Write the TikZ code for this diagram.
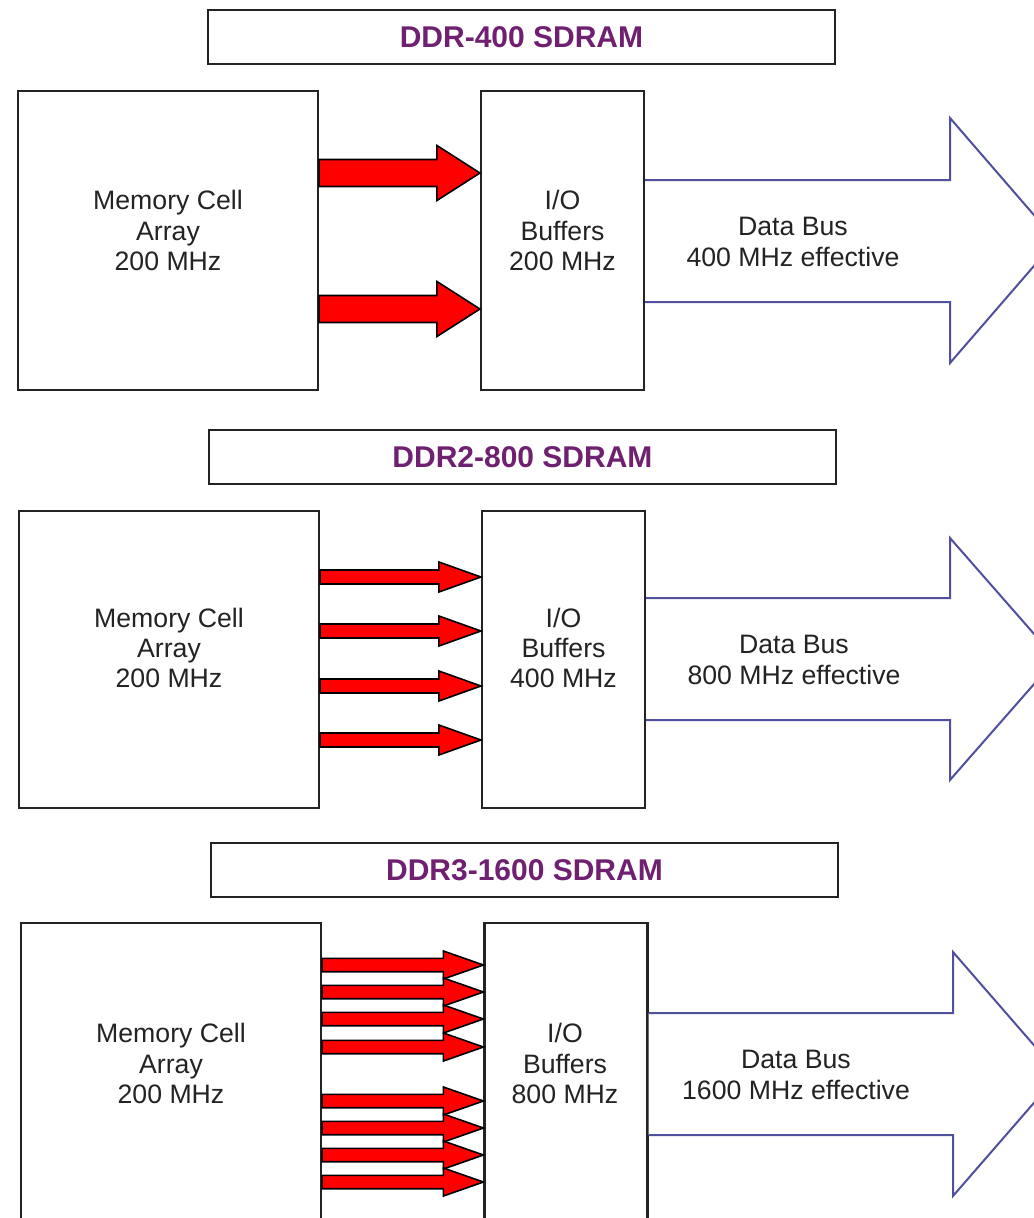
\documentclass[tikz,border=0pt]{standalone}
\usepackage{fontspec}
\setmainfont{Liberation Sans}
\usetikzlibrary{calc}
\definecolor{ttlcol}{RGB}{112,32,112}
\definecolor{buscol}{RGB}{80,80,158}
\definecolor{boxcol}{RGB}{35,35,35}
\tikzset{
  box/.style={draw=boxcol, line width=1.6pt, fill=white, inner sep=0pt},
  ttlbox/.style={box, minimum width=627*0.75pt, minimum height=54*0.75pt,
    font=\fontsize{22.5}{24}\selectfont\bfseries, text=ttlcol},
  membox/.style={box, minimum width=300*0.75pt},
  iobox/.style={box, minimum width=163*0.75pt},
  lbl/.style={align=center, inner sep=0pt, text=boxcol,
    font=\fontsize{20}{22.6}\selectfont},
  redarrow/.style={fill=red, draw=black, line width=1.2pt, line join=miter},
  busarrow/.style={fill=white, draw=buscol, line width=1.5pt, line join=miter}
}
\newcommand\redarr[6]{%
  \draw[redarrow] let \p1=(#1.east|-0,#3), \p2=(#2.west|-0,#3) in
   (\x1,{\y1+#4*0.75pt}) -- ({\x2-#6*0.75pt},{\y1+#4*0.75pt}) --
   ({\x2-#6*0.75pt},{\y1+#5*0.75pt}) -- (\x2,\y1) --
   ({\x2-#6*0.75pt},{\y1-#5*0.75pt}) -- ({\x2-#6*0.75pt},{\y1-#4*0.75pt}) --
   (\x1,{\y1-#4*0.75pt}) -- cycle;}
\begin{document}
\begin{tikzpicture}[x=0.75pt, y=-0.75pt]
\useasboundingbox[fill=white] (0,0) rectangle (1034,1218);
\begin{scope}
\clip (0,0) rectangle (1034,1218);

% ---------- DDR-400 ----------
\node[ttlbox] (t1) at (521.5,37) {DDR-400 SDRAM};
\node[membox, minimum height=299*0.75pt] (m1) at (168,240.5) {};
\node[iobox, minimum height=299*0.75pt] (i1) at (562.5,240.5) {};
\node[lbl] (m1t) at (168,230.5) {Memory Cell\\Array\\200 MHz};
\node[lbl] (i1t) at (562.5,230.5) {I/O\\Buffers\\200 MHz};
\redarr{m1}{i1}{173}{13.5}{27.5}{43}
\redarr{m1}{i1}{309}{13.5}{27.5}{43}
\filldraw[busarrow] (i1.east|-0,180) -- (950,180) -- (950,118) -- (1056,240.5)
  -- (950,363) -- (950,302) -- (i1.east|-0,302);
\node[lbl] (b1) at (793,242) {Data Bus\\400 MHz effective};

% ---------- DDR2-800 ----------
\node[ttlbox] (t2) at (522.5,457) {DDR2-800 SDRAM};
\node[membox, minimum height=297*0.75pt] (m2) at (169,659.5) {};
\node[iobox, minimum height=297*0.75pt] (i2) at (563.5,659.5) {};
\node[lbl] (m2t) at (169,648) {Memory Cell\\Array\\200 MHz};
\node[lbl] (i2t) at (563.5,648) {I/O\\Buffers\\400 MHz};
\redarr{m2}{i2}{577}{7}{15}{42}
\redarr{m2}{i2}{631}{7}{15}{42}
\redarr{m2}{i2}{686}{7}{15}{42}
\redarr{m2}{i2}{740}{7}{15}{42}
\filldraw[busarrow] (i2.east|-0,598) -- (950,598) -- (950,538) -- (1056,659)
  -- (950,780) -- (950,720) -- (i2.east|-0,720);
\node[lbl] (b2) at (794,660) {Data Bus\\800 MHz effective};

% ---------- DDR3-1600 ----------
\node[ttlbox] (t3) at (524.5,870) {DDR3-1600 SDRAM};
\node[membox, minimum height=317*0.75pt] (m3) at (171,1081.5) {};
\node[iobox, minimum height=317*0.75pt] (i3) at (566,1081.5) {};
\node[lbl] (m3t) at (171,1063.5) {Memory Cell\\Array\\200 MHz};
\node[lbl] (i3t) at (565,1063.5) {I/O\\Buffers\\800 MHz};
\foreach \yy in {965,992,1019,1047,1101,1128,1155,1182}{
  \redarr{m3}{i3}{\yy}{6.7}{14}{40}
}
\filldraw[busarrow] (i3.east|-0,1013) -- (953,1013) -- (953,952) -- (1059,1074)
  -- (953,1196) -- (953,1135) -- (i3.east|-0,1135);
\node[lbl] (b3) at (796,1075) {Data Bus\\1600 MHz effective};
\end{scope}
\end{tikzpicture}
\end{document}
